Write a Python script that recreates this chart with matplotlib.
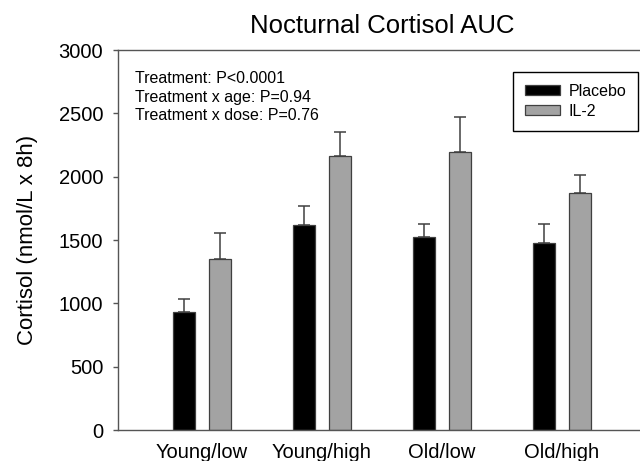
import numpy as np
import matplotlib.pyplot as plt

plt.rcParams['font.family'] = ['Liberation Sans', 'DejaVu Sans']

# Datos
grupos = ['Young/low', 'Young/high', 'Old/low', 'Old/high']
placebo = [928, 1622, 1523, 1478]
placebo_err = [108, 143, 105, 148]
il2 = [1352, 2164, 2191, 1869]
il2_err = [203, 187, 282, 148]
anotacion = ['Treatment: P<0.0001',
             'Treatment x age: P=0.94',
             'Treatment x dose: P=0.76']

COLOR_PLACEBO = '#000000'
COLOR_IL2 = '#a3a3a3'
COLOR_BORDE = '#404040'
COLOR_EJE = '#555555'

fig = plt.figure(figsize=(6.4, 4.61), dpi=100)
ax = fig.add_axes([118 / 640, 31 / 461, 528 / 640, 380 / 461])

x = np.arange(len(grupos))
ancho = 0.186
desp = 0.149

err_kw = dict(ecolor=COLOR_BORDE, elinewidth=1.1, capsize=4.3, capthick=1.1)
ax.bar(x - desp, placebo, ancho, color=COLOR_PLACEBO, edgecolor=COLOR_BORDE,
       linewidth=0.9, label='Placebo',
       yerr=[np.zeros(len(grupos)), placebo_err], error_kw=err_kw)
ax.bar(x + desp, il2, ancho, color=COLOR_IL2, edgecolor=COLOR_BORDE,
       linewidth=0.9, label='IL-2',
       yerr=[np.zeros(len(grupos)), il2_err], error_kw=err_kw)

ax.set_xlim(-0.7, 3.7)
ax.set_ylim(0, 3000)
ax.set_yticks(np.arange(0, 3001, 500))
ax.set_xticks(x)
ax.set_xticklabels(grupos)

for lado in ['left', 'top', 'right', 'bottom']:
    ax.spines[lado].set_color(COLOR_EJE)
    ax.spines[lado].set_linewidth(1.0)

ax.tick_params(axis='y', direction='out', length=3.6, width=1.0,
               color=COLOR_EJE, labelsize=14.5, pad=7)
ax.tick_params(axis='x', length=0, labelsize=14.5, pad=9)

ax.set_ylabel('Cortisol (nmol/L x 8h)', fontsize=16, labelpad=15)
ax.set_title('Nocturnal Cortisol AUC', fontsize=18.5, pad=12)

ax.text(0.032, 0.945, '\n'.join(anotacion), transform=ax.transAxes,
        fontsize=11.5, va='top', ha='left', linespacing=1.3)

leg = ax.legend(loc='upper right', bbox_to_anchor=(638 / 640, 1 - 72 / 461),
                bbox_transform=fig.transFigure, fontsize=11.5,
                fancybox=False, edgecolor='black', framealpha=1,
                borderaxespad=0,
                handlelength=2.2, handleheight=0.6, handletextpad=0.5,
                borderpad=0.75, labelspacing=0.3)
leg.get_frame().set_linewidth(1.0)

fig.savefig('out.png', dpi=100)
plt.close()
